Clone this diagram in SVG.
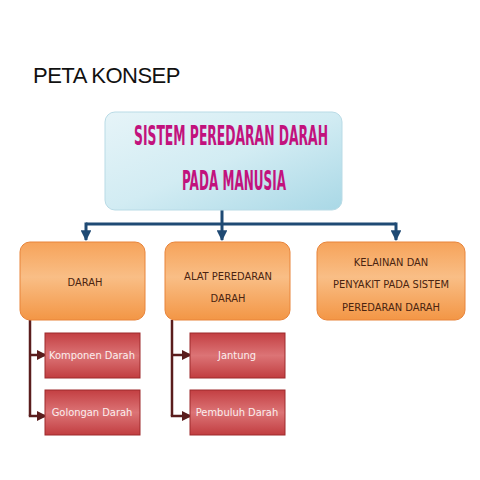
<svg xmlns="http://www.w3.org/2000/svg" width="480" height="480" viewBox="0 0 480 480">
<defs>
<linearGradient id="gBlue" x1="0" y1="0" x2="1" y2="1">
<stop offset="0" stop-color="#e6f4f8"/><stop offset="0.5" stop-color="#d2ecf3"/><stop offset="1" stop-color="#a9d8e6"/>
</linearGradient>
<linearGradient id="gOr" x1="0" y1="0" x2="0" y2="1">
<stop offset="0" stop-color="#f6a35a"/><stop offset="0.45" stop-color="#f9be86"/><stop offset="1" stop-color="#f39645"/>
</linearGradient>
<linearGradient id="gRed" x1="0" y1="0" x2="0" y2="1">
<stop offset="0" stop-color="#c33f42"/><stop offset="0.5" stop-color="#dc7476"/><stop offset="1" stop-color="#c13d40"/>
</linearGradient>
<marker id="aB" viewBox="0 0 10 10" refX="9" refY="5" markerWidth="3.6" markerHeight="3.6" orient="auto"><path d="M0,0 L10,5 L0,10 z" fill="#1f4a74"/></marker>
<marker id="aR" viewBox="0 0 10 10" refX="9" refY="5" markerWidth="4" markerHeight="4" orient="auto"><path d="M0,0 L10,5 L0,10 z" fill="#5a1d1d"/></marker>
</defs>
<style>
.title{font-family:"Liberation Sans",Arial,sans-serif;font-size:22px;fill:#111;letter-spacing:-0.5px}
.main{font-family:"DejaVu Sans Condensed","DejaVu Sans",sans-serif;font-weight:bold;font-size:27px;fill:#c2127d;text-anchor:middle}
.ot{font-family:"DejaVu Sans Condensed","DejaVu Sans",sans-serif;font-size:11px;fill:#4a2410;text-anchor:middle}
.rt{font-family:"DejaVu Sans Condensed","DejaVu Sans",sans-serif;font-size:11px;fill:#fbeeee;text-anchor:middle}
.ob{fill:url(#gOr);stroke:#e8843a;stroke-width:1}
.rb{fill:url(#gRed);stroke:#9e2a2d;stroke-width:1}
.bl{fill:none;stroke:#1f4a74;stroke-width:3}
.rl{fill:none;stroke:#5a1d1d;stroke-width:2.5}
</style>
<rect width="480" height="480" fill="#ffffff"/>
<text class="title" x="33" y="83">PETA KONSEP</text>
<g id="connectors">
<path class="bl" d="M222,210 V224"/>
<path class="bl" d="M86,224 H396"/>
<path class="bl" d="M86,222.5 V240" marker-end="url(#aB)"/>
<path class="bl" d="M222,224 V240" marker-end="url(#aB)"/>
<path class="bl" d="M396,222.5 V240" marker-end="url(#aB)"/>
<path class="rl" d="M30,320 V416"/>
<path class="rl" d="M30,355 H46" marker-end="url(#aR)"/>
<path class="rl" d="M28.8,416 H46" marker-end="url(#aR)"/>
<path class="rl" d="M172,320 V416"/>
<path class="rl" d="M172,355 H191" marker-end="url(#aR)"/>
<path class="rl" d="M170.8,416 H191" marker-end="url(#aR)"/>
</g>
<g id="main">
<rect x="105" y="112" width="237" height="98" rx="10" fill="url(#gBlue)" stroke="#b9dbe6"/>
<text class="main" x="231" y="145" textLength="194" lengthAdjust="spacingAndGlyphs">SISTEM PEREDARAN DARAH</text>
<text class="main" x="234" y="190" textLength="104" lengthAdjust="spacingAndGlyphs">PADA MANUSIA</text>
</g>
<g id="darah">
<rect class="ob" x="20" y="242" width="125" height="78" rx="10"/>
<text class="ot" x="85" y="286">DARAH</text>
</g>
<g id="alat">
<rect class="ob" x="165" y="242" width="125" height="78" rx="10"/>
<text class="ot" x="228" y="280">ALAT PEREDARAN</text>
<text class="ot" x="228" y="302">DARAH</text>
</g>
<g id="kelainan">
<rect class="ob" x="317" y="242" width="148" height="78" rx="10"/>
<text class="ot" x="391" y="266">KELAINAN DAN</text>
<text class="ot" x="391" y="288">PENYAKIT PADA SISTEM</text>
<text class="ot" x="391" y="311">PEREDARAN DARAH</text>
</g>
<g id="komponen">
<rect class="rb" x="45" y="333" width="95" height="45"/>
<text class="rt" x="92" y="359">Komponen Darah</text>
</g>
<g id="golongan">
<rect class="rb" x="45" y="390" width="95" height="45"/>
<text class="rt" x="92" y="416">Golongan Darah</text>
</g>
<g id="jantung">
<rect class="rb" x="190" y="333" width="95" height="45"/>
<text class="rt" x="237" y="359">Jantung</text>
</g>
<g id="pembuluh">
<rect class="rb" x="190" y="390" width="95" height="45"/>
<text class="rt" x="237" y="416">Pembuluh Darah</text>
</g>
</svg>
